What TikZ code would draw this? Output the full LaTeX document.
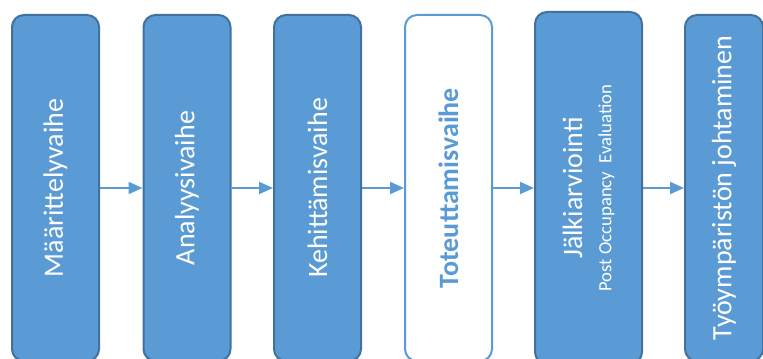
\documentclass[tikz,border=0pt]{standalone}
\usepackage{fontspec}
\setmainfont{Carlito}
\usetikzlibrary{arrows.meta}
\definecolor{phase blue}{HTML}{5B9BD5}
\definecolor{phase edge}{HTML}{41719C}
\tikzset{%
  phase/.style={draw=phase edge, fill=phase blue, line width=1.5pt,
    rounded corners=9pt, rotate=90, inner sep=0pt,
    minimum width=259.5pt, minimum height=65.25pt,
    text=white, font=\fontsize{21}{24}\selectfont},
  phase now/.style={phase, draw=phase blue, fill=white, text=phase blue,
    font=\fontsize{21}{24}\selectfont\bfseries},
  flow/.style={draw=phase blue, line width=1.5pt,
    -{Triangle[length=10.5pt,width=9pt]}},
}
\begin{document}
\begin{tikzpicture}[x=0.75pt,y=-0.75pt]
  \path[clip, use as bounding box] (0,0) rectangle (763,359);
  % phases, left to right
  \node [phase] (maar) at (55.5,188) {Määrittelyvaihe};
  \node [phase] (anal) at (187,188) {Analyysivaihe};
  \node [phase] (kehi) at (317.5,188) {Kehittämisvaihe};
  \node [phase now] (tote) at (448.5,188) {Toteuttamisvaihe};
  \node [phase, minimum width=264pt, minimum height=80.25pt, align=center]
    (jalk) at (588.5,188)
    {Jälkiarviointi\\[-2pt]{\fontsize{14}{17}\selectfont Post Occupancy\ \ Evaluation}};
  \node [phase, minimum height=58.5pt] (tyoy) at (724,188) {Työympäristön johtaminen};
  % arrows between phases
  \draw [flow] (maar) -- (anal);
  \draw [flow] (anal) -- (kehi);
  \draw [flow] (kehi) -- (tote);
  \draw [flow] (tote) -- (jalk);
  \draw [flow] (jalk) -- (tyoy);
\end{tikzpicture}
\end{document}
